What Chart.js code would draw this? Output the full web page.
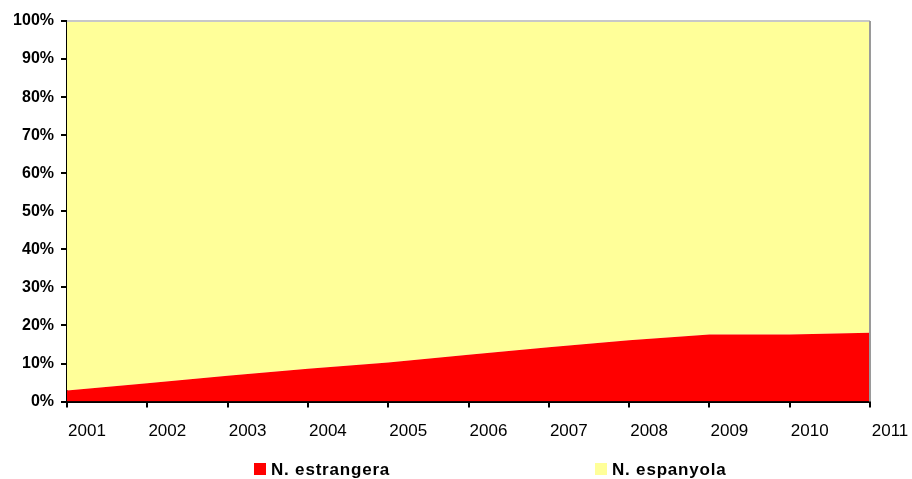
<!DOCTYPE html>
<html>
<head>
<meta charset="utf-8">
<script src="https://cdn.jsdelivr.net/npm/chart.js@4.4.1/dist/chart.umd.min.js"></script>
<style>
  html, body { margin: 0; padding: 0; background: #fff; }
  #wrap { width: 912px; height: 479px; }
</style>
</head>
<body>
<div id="wrap"><canvas id="chart"></canvas></div>
<script>
// Població per nacionalitat (% sobre el total), 2001-2011
const years = ['2001', '2002', '2003', '2004', '2005', '2006', '2007', '2008', '2009', '2010', '2011'];
const estrangera = [2.9, 4.8, 6.8, 8.6, 10.3, 12.3, 14.3, 16.1, 17.6, 17.6, 18.1];
const espanyola = [97.1, 95.2, 93.2, 91.4, 89.7, 87.7, 85.7, 83.9, 82.4, 82.4, 81.9];
const yTicks = [0, 10, 20, 30, 40, 50, 60, 70, 80, 90, 100];

const FONT = 'Arial, "Liberation Sans", sans-serif';

// grey frame on the top and right of the plot area
const frame = {
  id: 'frame',
  afterDatasetsDraw(chart) {
    const { ctx, chartArea: a } = chart;
    ctx.save();
    ctx.lineWidth = 2;
    ctx.strokeStyle = '#c8c8c8';
    ctx.beginPath(); ctx.moveTo(a.left, a.top); ctx.lineTo(a.right, a.top); ctx.stroke();
    ctx.strokeStyle = '#9a9a9a';
    ctx.beginPath(); ctx.moveTo(a.right, a.top); ctx.lineTo(a.right, a.bottom); ctx.stroke();
    ctx.restore();
  }
};

// legend drawn at fixed columns under the axis
const bottomLegend = {
  id: 'bottomLegend',
  afterDraw(chart, args, opts) {
    const { ctx } = chart;
    ctx.save();
    ctx.font = 'bold 17px ' + FONT;
    ctx.letterSpacing = '0.8px';
    ctx.textBaseline = 'middle';
    chart.data.datasets.forEach((ds, i) => {
      const x = opts.xs[i];
      ctx.fillStyle = ds.backgroundColor;
      ctx.fillRect(x, opts.y - 6, 12, 12);
      ctx.fillStyle = '#000';
      ctx.fillText(ds.label, x + 17, opts.y + 1);
    });
    ctx.restore();
  }
};

new Chart(document.getElementById('chart').getContext('2d'), {
  type: 'line',
  data: {
    labels: years,
    datasets: [
      { label: 'N. estrangera', data: estrangera, backgroundColor: '#ff0000', fill: 'origin' },
      { label: 'N. espanyola', data: espanyola, backgroundColor: '#ffff99', fill: '-1' }
    ]
  },
  options: {
    responsive: true,
    maintainAspectRatio: false,
    animation: false,
    layout: { padding: { top: 21, right: 42, bottom: 23, left: 0 } },
    elements: {
      line: { tension: 0, borderWidth: 0 },
      point: { radius: 0, hoverRadius: 0 }
    },
    scales: {
      x: {
        offset: false,
        grid: { drawOnChartArea: false, drawTicks: true, tickLength: 6, color: '#000', lineWidth: 2 },
        border: { display: true, color: '#000', width: 2 },
        ticks: { color: '#000', font: { family: FONT, size: 17 }, padding: 14, labelOffset: 20, maxRotation: 0, autoSkip: false }
      },
      y: {
        stacked: true,
        min: 0,
        max: 100,
        afterFit: (s) => { s.width = 67; },
        afterBuildTicks: (s) => { s.ticks = yTicks.map(v => ({ value: v })); },
        grid: { drawOnChartArea: false, drawTicks: true, tickLength: 6, color: '#000', lineWidth: 2 },
        border: { display: true, color: '#000', width: 2 },
        ticks: { color: '#000', font: { family: FONT, size: 16, weight: 'bold' }, padding: 7, callback: (v) => v + '%' }
      }
    },
    plugins: {
      legend: { display: false },
      tooltip: { enabled: false },
      bottomLegend: { xs: [254, 595], y: 469 }
    }
  },
  plugins: [frame, bottomLegend]
});
</script>
</body>
</html>
